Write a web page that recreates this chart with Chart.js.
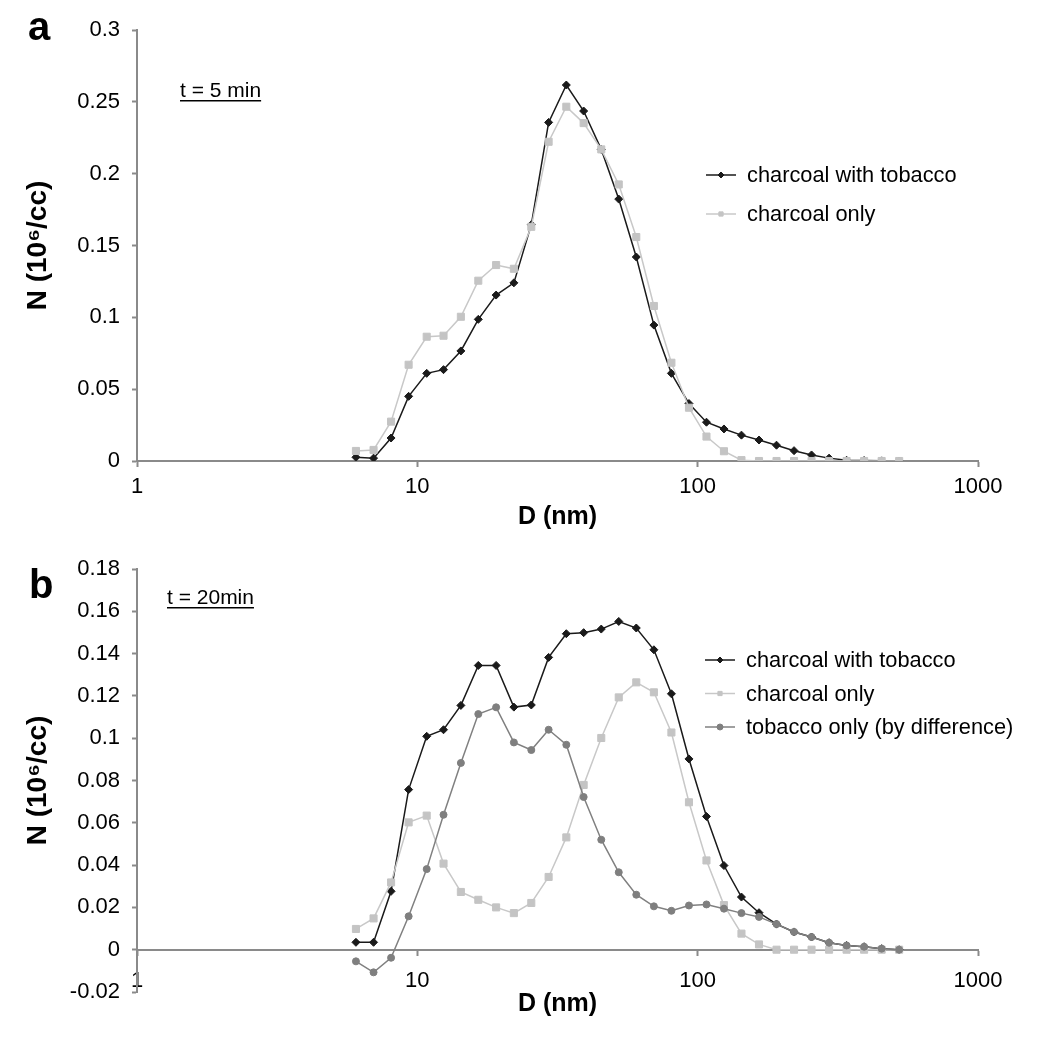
<!DOCTYPE html>
<html>
<head>
<meta charset="utf-8">
<script src="https://cdn.jsdelivr.net/npm/chart.js@4/dist/chart.umd.min.js"></script>
<style>
  html, body { margin: 0; padding: 0; background: #fff; overflow: hidden; }
  #page { position: relative; width: 1050px; height: 1046px; overflow: hidden; }
  .panel { position: absolute; left: 0; }
  #chartA { top: 0; }
  #chartB { top: 530px; }
</style>
</head>
<body>
<div id="page">
  <canvas id="chartA" class="panel" width="1050" height="535"></canvas>
  <canvas id="chartB" class="panel" width="1050" height="530"></canvas>
</div>
<script>
// mobility diameter channels (nm)
const diam = [6.04, 6.98, 8.06, 9.31, 10.8, 12.4, 14.3, 16.5, 19.1, 22.1, 25.5, 29.4, 34.0, 39.2, 45.3, 52.3,
              60.4, 69.8, 80.6, 93.1, 107.5, 124.1, 143.3, 165.5, 191.1, 220.7, 254.8, 294.3, 339.8, 392.4, 453.2, 523.3];

// panel a, t = 5 min
const a_withTobacco = [0.0026, 0.002, 0.016, 0.045, 0.061, 0.0636, 0.0766, 0.0986, 0.1155, 0.124, 0.1645, 0.2357,
                       0.2617, 0.2436, 0.2169, 0.1823, 0.142, 0.0946, 0.061, 0.040, 0.027, 0.0223, 0.018, 0.0146,
                       0.011, 0.0072, 0.0042, 0.002, 0.0005, 0.0003, 0.0001, 0];
const a_charcoalOnly = [0.007, 0.0077, 0.0274, 0.067, 0.0865, 0.0872, 0.1004, 0.1255, 0.1364, 0.1338, 0.163, 0.2222,
                        0.2466, 0.2352, 0.2169, 0.1925, 0.1559, 0.1079, 0.0684, 0.0371, 0.017, 0.0068, 0.0006, 0,
                        0, 0, 0, 0, 0, 0, 0, 0];

// panel b, t = 20 min
const b_withTobacco = [0.0035, 0.0035, 0.0276, 0.0757, 0.1009, 0.104, 0.1155, 0.1344, 0.1344, 0.1147, 0.1157, 0.1382,
                       0.1494, 0.1499, 0.1516, 0.1552, 0.1521, 0.1418, 0.121, 0.0902, 0.063, 0.0398, 0.0249, 0.0175,
                       0.0121, 0.0084, 0.006, 0.0033, 0.002, 0.0014, 0.0005, 0];
const b_charcoalOnly = [0.0098, 0.0148, 0.0318, 0.0602, 0.0634, 0.0407, 0.0273, 0.0236, 0.020, 0.0173, 0.0221, 0.0344,
                        0.0531, 0.0779, 0.1001, 0.1193, 0.1264, 0.1217, 0.1027, 0.0697, 0.0422, 0.0211, 0.0076, 0.0025,
                        0, 0, 0, 0, 0, 0, 0, 0];
const b_tobaccoOnly = [-0.0055, -0.0107, -0.0038, 0.0158, 0.0381, 0.0638, 0.0883, 0.1114, 0.1146, 0.098, 0.0944, 0.104,
                       0.0969, 0.0722, 0.052, 0.0366, 0.026, 0.0205, 0.0184, 0.0209, 0.0214, 0.0194, 0.0173, 0.0155,
                       0.0121, 0.0084, 0.006, 0.0033, 0.002, 0.0014, 0.0005, 0];

const xTicks = [1, 10, 100, 1000];
const yTicksA = [0, 0.05, 0.1, 0.15, 0.2, 0.25, 0.3];
const yTicksB = [-0.02, 0, 0.02, 0.04, 0.06, 0.08, 0.1, 0.12, 0.14, 0.16, 0.18];

const FONT = '"Liberation Sans", Arial, sans-serif';
const AXIS = '#8a8a8a';

function pts(vals) {
    return diam.map((d, i) => ({ x: d, y: vals[i] }));
}

function series(label, vals, color, lineColor, style, radius, order) {
    return {
        label: label,
        data: pts(vals),
        borderColor: lineColor,
        borderWidth: 1.5,
        pointStyle: style,
        pointRadius: radius,
        pointBackgroundColor: color,
        pointBorderColor: color,
        pointBorderWidth: 1,
        tension: 0,
        order: order
    };
}

// panel letter, underlined time note and the legend inside the plot
const decor = {
    id: 'decor',
    afterDraw(chart, args, o) {
        const ctx = chart.ctx;
        ctx.save();
        ctx.fillStyle = '#000';
        ctx.textBaseline = 'alphabetic';
        ctx.font = 'bold 40px ' + FONT;
        ctx.fillText(o.letter, o.letterX, o.letterY);

        ctx.font = '21px ' + FONT;
        ctx.fillText(o.note, o.noteX, o.noteY);
        const w = ctx.measureText(o.note).width;
        ctx.fillRect(o.noteX, o.noteY + 3, w, 1.5);

        chart.data.datasets.forEach((ds, i) => {
            const y = o.legendY + i * o.legendGap;
            ctx.strokeStyle = ds.borderColor;
            ctx.lineWidth = 1.5;
            ctx.beginPath();
            ctx.moveTo(o.legendX, y);
            ctx.lineTo(o.legendX + 30, y);
            ctx.stroke();
            ctx.fillStyle = ds.pointBackgroundColor;
            ctx.strokeStyle = ds.pointBorderColor;
            ctx.lineWidth = 1;
            Chart.helpers.drawPoint(ctx, { pointStyle: ds.pointStyle, radius: 3, borderWidth: 1, rotation: 0 }, o.legendX + 15, y);
            ctx.fillStyle = '#000';
            ctx.textBaseline = 'middle';
            ctx.font = '21.8px ' + FONT;
            ctx.fillText(ds.label, o.legendX + 41, y + 1);
        });
        ctx.restore();
    }
};

function makePanel(id, datasets, yMin, yMax, yTicks, xAxisH, titleRoom, padTop, xLabelPad, decorOpts) {
    return new Chart(document.getElementById(id), {
        type: 'line',
        data: { datasets: datasets },
        plugins: [decor],
        options: {
            responsive: false,
            animation: false,
            // the x axis sits at y = 0, so its room below the plot is kept with padding
            layout: { padding: { top: padTop, right: 72, bottom: xAxisH, left: 0 } },
            plugins: {
                legend: { display: false },
                tooltip: { enabled: false },
                decor: decorOpts
            },
            scales: {
                x: {
                    type: 'logarithmic',
                    min: 1,
                    max: 1000,
                    position: { y: 0 },
                    afterBuildTicks: s => { s.ticks = xTicks.map(v => ({ value: v })); },
                    afterFit: s => { s.height = titleRoom; },
                    border: { color: AXIS, width: 2 },
                    grid: { drawOnChartArea: false, color: AXIS, tickLength: 5, tickWidth: 2 },
                    ticks: {
                        color: '#000', padding: xLabelPad, maxRotation: 0, autoSkip: false,
                        font: { size: 22, family: FONT },
                        callback: v => String(v)
                    },
                    title: {
                        display: true, text: 'D (nm)', color: '#000',
                        font: { size: 25, weight: 'bold', family: FONT },
                        padding: { top: 0, bottom: 3 }
                    }
                },
                y: {
                    min: yMin,
                    max: yMax,
                    afterBuildTicks: s => { s.ticks = yTicks.map(v => ({ value: v })); },
                    afterFit: s => { s.width = 137; },
                    border: { color: AXIS, width: 2 },
                    grid: { drawOnChartArea: false, color: AXIS, tickLength: 5, tickWidth: 2 },
                    ticks: {
                        color: '#000', padding: 12,
                        font: { size: 22, family: FONT },
                        callback: v => String(v)
                    },
                    title: {
                        display: true, text: 'N (10⁶/cc)', color: '#000',
                        font: { size: 28, weight: 'bold', family: FONT },
                        padding: { top: 21, bottom: 0 }
                    }
                }
            }
        }
    });
}

makePanel('chartA', [
    series('charcoal with tobacco', a_withTobacco, '#1a1a1a', '#1a1a1a', 'rectRot', 4, 2),
    series('charcoal only', a_charcoalOnly, '#c4c4c4', '#c8c8c8', 'rect', 5, 1)
], 0, 0.3, yTicksA, 74, 74, 30, 8, {
    letter: 'a', letterX: 28, letterY: 40,
    note: 't = 5 min', noteX: 180, noteY: 97,
    legendX: 706, legendY: 175, legendGap: 39
});

makePanel('chartB', [
    series('charcoal with tobacco', b_withTobacco, '#1a1a1a', '#1a1a1a', 'rectRot', 4, 3),
    series('charcoal only', b_charcoalOnly, '#c4c4c4', '#c8c8c8', 'rect', 5, 2),
    series('tobacco only (by difference)', b_tobaccoOnly, '#7f7f7f', '#808080', 'circle', 3.5, 1)
], -0.02, 0.18, yTicksB, 68, 72, 39, 13, {
    letter: 'b', letterX: 29, letterY: 68,
    note: 't = 20min', noteX: 167, noteY: 74,
    legendX: 705, legendY: 130, legendGap: 33.5
});
</script>
</body>
</html>
